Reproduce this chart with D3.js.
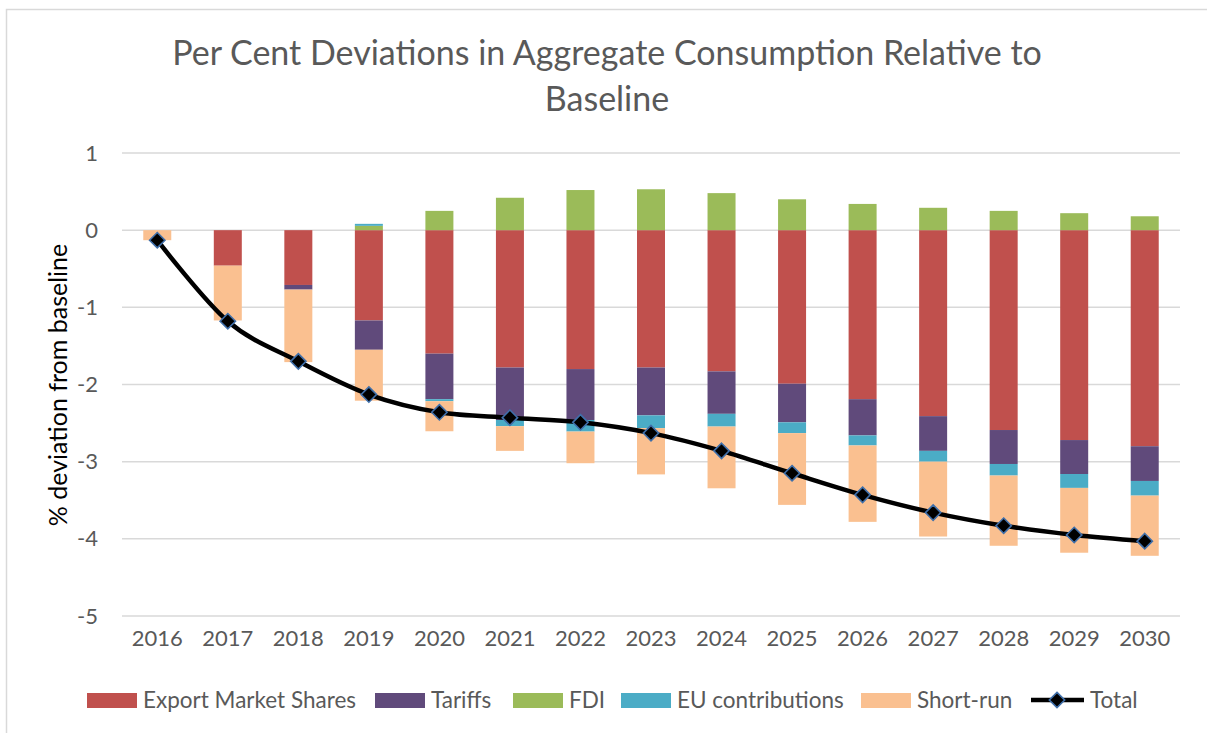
<!DOCTYPE html>
<html>
<head>
<meta charset="utf-8">
<script src="https://cdn.jsdelivr.net/npm/d3@7"></script>
<style>
  body { margin: 0; background: #fff; }
  text { font-family: Lato, "Open Sans", sans-serif; }
</style>
</head>
<body>
<div id="chart"></div>
<script>
// data
var years = ["2016", "2017", "2018", "2019", "2020", "2021", "2022", "2023", "2024", "2025", "2026", "2027", "2028", "2029", "2030"];
var exportShares = [0, -0.46, -0.71, -1.17, -1.60, -1.78, -1.80, -1.78, -1.83, -1.99, -2.19, -2.41, -2.59, -2.72, -2.80];
var tariffs = [0, 0, -0.06, -0.38, -0.59, -0.68, -0.66, -0.62, -0.55, -0.50, -0.47, -0.45, -0.44, -0.44, -0.45];
var fdi = [0, 0, 0, 0.056, 0.25, 0.42, 0.52, 0.53, 0.48, 0.40, 0.34, 0.29, 0.25, 0.22, 0.18];
var euContrib = [0, 0, 0, 0.026, -0.026, -0.08, -0.15, -0.165, -0.165, -0.14, -0.13, -0.14, -0.15, -0.18, -0.19];
var shortRun = [-0.13, -0.71, -0.94, -0.66, -0.39, -0.32, -0.41, -0.60, -0.80, -0.93, -0.99, -0.97, -0.91, -0.84, -0.78];
var total = [-0.13, -1.18, -1.70, -2.13, -2.36, -2.43, -2.49, -2.63, -2.86, -3.15, -3.43, -3.66, -3.83, -3.95, -4.03];
var yTicks = [1, 0, -1, -2, -3, -4, -5];

var seriesNames = ["Export Market Shares", "Tariffs", "FDI", "EU contributions", "Short-run"];
var seriesColors = ["#C0504D", "#604A7B", "#9BBB59", "#4BACC6", "#FAC090"];

var svgWidth = 1207;
var svgHeight = 733;
var margin = { top: 153, right: 27, bottom: 117, left: 122 };
var width = svgWidth - margin.left - margin.right;
var height = svgHeight - margin.top - margin.bottom;

var svg = d3.select("#chart")
  .append("svg")
  .attr("width", svgWidth)
  .attr("height", svgHeight);

// outer chart frame
svg.append("rect")
  .attr("x", 6.5)
  .attr("y", 9.5)
  .attr("width", svgWidth + 20)
  .attr("height", svgHeight + 20)
  .attr("fill", "none")
  .attr("stroke", "#D9D9D9")
  .attr("stroke-width", 1.5);

var chartGroup = svg.append("g")
  .attr("transform", `translate(${margin.left}, ${margin.top})`);

// build rows for stacking
var table = years.map(function(y, i) {
  return {
    year: y,
    "Export Market Shares": exportShares[i],
    "Tariffs": tariffs[i],
    "FDI": fdi[i],
    "EU contributions": euContrib[i],
    "Short-run": shortRun[i]
  };
});

var stacked = d3.stack()
  .keys(seriesNames)
  .offset(d3.stackOffsetDiverging)(table);

var xScale = d3.scaleBand().domain(years).range([0, width]);
var yScale = d3.scaleLinear().domain([-5, 1]).range([height, 0]);
var color = d3.scaleOrdinal().domain(seriesNames).range(seriesColors);

// gridlines
chartGroup.append("g")
  .selectAll("line")
  .data(yTicks)
  .enter()
  .append("line")
  .attr("x1", 0)
  .attr("x2", width)
  .attr("y1", d => yScale(d))
  .attr("y2", d => yScale(d))
  .attr("stroke", "#D9D9D9")
  .attr("stroke-width", 1.5);

// y axis labels
var leftAxis = d3.axisLeft(yScale)
  .tickValues(yTicks)
  .tickFormat(d => String(d))
  .tickSize(0)
  .tickPadding(24);
var yAxisG = chartGroup.append("g").call(leftAxis);
yAxisG.select(".domain").remove();
yAxisG.selectAll("text")
  .style("font-family", "Lato, sans-serif")
  .style("font-size", "22px")
  .attr("fill", "#595959");

// x axis labels
var bottomAxis = d3.axisBottom(xScale).tickSize(0).tickPadding(14);
var xAxisG = chartGroup.append("g")
  .attr("transform", `translate(0, ${height})`)
  .call(bottomAxis);
xAxisG.select(".domain").remove();
xAxisG.selectAll("text")
  .style("font-family", "Lato, sans-serif")
  .style("font-size", "22px")
  .attr("fill", "#595959");

// stacked bars
var barW = 28;
chartGroup.selectAll(".series")
  .data(stacked)
  .enter()
  .append("g")
  .attr("class", "series")
  .attr("fill", d => color(d.key))
  .selectAll("rect")
  .data(d => d)
  .enter()
  .append("rect")
  .attr("x", d => xScale(d.data.year) + xScale.bandwidth() / 2 - barW / 2)
  .attr("y", d => yScale(Math.max(d[0], d[1])))
  .attr("width", barW)
  .attr("height", d => Math.abs(yScale(d[0]) - yScale(d[1])));

// total line
var line = d3.line()
  .x((d, i) => xScale(years[i]) + xScale.bandwidth() / 2)
  .y(d => yScale(d))
  .curve(d3.curveCatmullRom.alpha(0));

chartGroup.append("path")
  .datum(total)
  .attr("d", line)
  .attr("fill", "none")
  .attr("stroke", "#000")
  .attr("stroke-width", 4.5)
  .attr("stroke-linejoin", "round");

var diamond = d3.symbol().type(d3.symbolDiamond2).size(150);
chartGroup.selectAll(".marker")
  .data(total)
  .enter()
  .append("path")
  .attr("class", "marker")
  .attr("transform", (d, i) => `translate(${xScale(years[i]) + xScale.bandwidth() / 2}, ${yScale(d)})`)
  .attr("d", diamond)
  .attr("fill", "#000")
  .attr("stroke", "#3F6FAA")
  .attr("stroke-width", 1.6);

// y axis title
svg.append("text")
  .attr("transform", "rotate(-90)")
  .attr("x", -385)
  .attr("y", 67)
  .attr("text-anchor", "middle")
  .style("font-size", "25px")
  .attr("fill", "#000")
  .text("% deviation from baseline");

// title
var title = svg.append("text")
  .attr("text-anchor", "middle")
  .style("font-size", "34px")
  .attr("fill", "#595959");
title.append("tspan").attr("x", 607).attr("y", 65).text("Per Cent Deviations in Aggregate Consumption Relative to");
title.append("tspan").attr("x", 607).attr("y", 111).text("Baseline");

// legend
var legendX = [87, 375, 513, 621, 861];
var legend = svg.append("g");
seriesNames.forEach(function(name, i) {
  legend.append("rect")
    .attr("x", legendX[i])
    .attr("y", 693)
    .attr("width", 50)
    .attr("height", 15)
    .attr("fill", seriesColors[i]);
  legend.append("text")
    .attr("x", legendX[i] + 56)
    .attr("y", 700)
    .attr("dy", "0.35em")
    .style("font-size", "22.5px")
    .attr("fill", "#595959")
    .text(name);
});
legend.append("line")
  .attr("x1", 1031).attr("x2", 1084)
  .attr("y1", 700).attr("y2", 700)
  .attr("stroke", "#000")
  .attr("stroke-width", 4.5);
legend.append("path")
  .attr("transform", "translate(1057, 700)")
  .attr("d", diamond)
  .attr("fill", "#000")
  .attr("stroke", "#3F6FAA")
  .attr("stroke-width", 1.6);
legend.append("text")
  .attr("x", 1090)
  .attr("y", 700)
  .attr("dy", "0.35em")
  .style("font-size", "22.5px")
  .attr("fill", "#595959")
  .text("Total");
</script>
</body>
</html>
